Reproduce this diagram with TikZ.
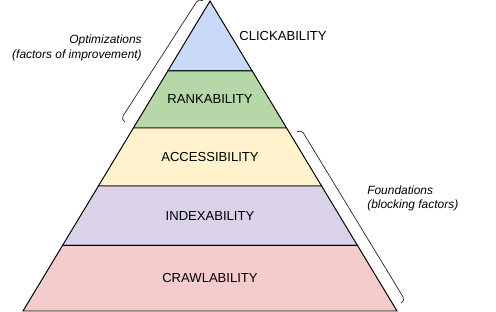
\documentclass[tikz,border=0pt]{standalone}
\usepackage{fontspec}
\setmainfont{Liberation Sans}
\usepackage{tikz}
\usetikzlibrary{
  calc
}
\definecolor{clickblue}{HTML}{C9DAF8}
\definecolor{rankgreen}{HTML}{B6D7A8}
\definecolor{accessyellow}{HTML}{FFF2CC}
\definecolor{indexpurple}{HTML}{D9D2E9}
\definecolor{crawlred}{HTML}{F4CCCC}

\begin{document}
\begin{tikzpicture}[
  layer/.style={draw=black, line width=0.7pt, line join=miter},
  lvl/.style={font=\fontsize{9.3}{11}\selectfont, inner sep=0pt},
  note/.style={font=\fontsize{8.5}{10.3}\selectfont\itshape,
               inner sep=0pt},
  brc/.style={draw=black!85, line width=0.5pt, rounded corners=3pt}
]
\useasboundingbox (0,0) rectangle (12.4,7.8);

\coordinate (apex) at (5.25, 7.775);
\coordinate (bl) at (0.575, 0.025);
\coordinate (br) at (9.925, 0.025);

% layer corners on both sides
\foreach \lay/\t in {c/0.2258, r/0.4097, a/0.5968, i/0.7887} {
  \coordinate (\lay l) at ($(apex)!\t!(bl)$);
  \coordinate (\lay r) at ($(apex)!\t!(br)$);
}

\filldraw[layer, fill=clickblue]    (apex) -- (cr) -- (cl) -- cycle;
\filldraw[layer, fill=rankgreen]    (cl) -- (cr) -- (rr) -- (rl) -- cycle;
\filldraw[layer, fill=accessyellow] (rl) -- (rr) -- (ar) -- (al) -- cycle;
\filldraw[layer, fill=indexpurple]  (al) -- (ar) -- (ir) -- (il) -- cycle;
\filldraw[layer, fill=crawlred]     (il) -- (ir) -- (br) -- (bl) -- cycle;

\node[lvl] (click)  at (7.075, 6.9)   {CLICKABILITY};
\node[lvl] (rank)   at (5.25, 5.3125) {RANKABILITY};
\node[lvl] (access) at (5.25, 3.875)  {ACCESSIBILITY};
\node[lvl] (index)  at (5.25, 2.4)    {INDEXABILITY};
\node[lvl] (crawl)  at (5.25, 0.85)   {CRAWLABILITY};

% brackets with curled ends
\coordinate (optlo) at (3.125, 4.75);
\coordinate (opthi) at (5.075, 7.775);
\coordinate (fndhi) at (7.425, 4.5);
\coordinate (fndlo) at (10.025, 0.225);
\draw[brc] (optlo) -- ($(optlo)!3.5pt!90:(opthi)$)
  -- ($(opthi)!3.5pt!-90:(optlo)$) -- (opthi);
\draw[brc] (fndhi) -- ($(fndhi)!3.5pt!90:(fndlo)$)
  -- ($(fndlo)!3.5pt!-90:(fndhi)$) -- (fndlo);

\node[note, anchor=east, align=right] (opt) at (3.55, 6.6)
  {Optimizations\\(factors of improvement)};
\node[note, anchor=west, align=left] (fnd) at (9.175, 2.8375)
  {Foundations\\(blocking factors)};

\end{tikzpicture}
\end{document}
